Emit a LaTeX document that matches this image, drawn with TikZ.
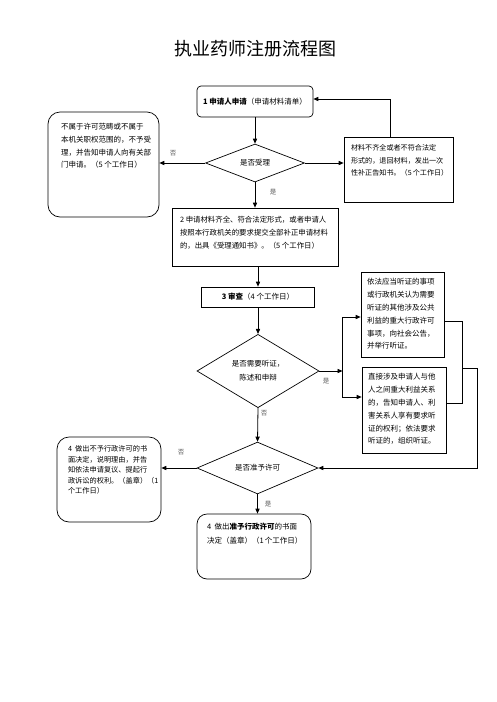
\documentclass[tikz,border=0pt]{standalone}
\usepackage{fontspec}
\setmainfont{Noto Sans CJK SC}
\usetikzlibrary{arrows.meta,shapes.geometric,calc}
\newcommand\tbox[3]{\parbox[c][#2][t]{#1}{\raggedright #3}}
\begin{document}
\begin{tikzpicture}[x=1pt,y=-1pt,
  box/.style={draw, line width=0.7pt, inner sep=0pt},
  rbox/.style={box, rounded corners=11pt},
  dia/.style={draw, diamond, inner sep=0pt, line width=0.7pt},
  arr/.style={-{Triangle[length=5pt,width=4.2pt]}, line width=0.8pt},
  lbl/.style={font=\fontsize{6.5}{7}\selectfont, text=black!65},
  txt/.style={font=\fontsize{7.5}{12.7}\selectfont}]
\useasboundingbox (0,0) rectangle (496,702);
\fill[white] (0,0) rectangle (496,702);

\node[font=\fontsize{18}{20}\selectfont] (title) at (255.5,48.5) {执业药师注册流程图};

\node[box, rounded corners=4pt, minimum width=116pt, minimum height=31pt, txt] (b1) at (255,101.5) {\textbf{1~申请人申请}（申请材料清单）};

\node[dia, minimum width=99pt, minimum height=38pt, txt] (d1) at (255,163) {是否受理};

\node[rbox, rounded corners=12pt, inner xsep=13pt, inner ysep=11.5pt, txt] (L1) at (103.5,164.5)
  {\tbox{85pt}{82pt}{不属于许可范畴或不属于\\本机关职权范围的，不予受\\理，并告知申请人向有关部\\门申请。（5~个工作日）}};

\node[box, inner xsep=7pt, inner ysep=7.5pt, font=\fontsize{7.1}{12.5}\selectfont] (R1) at (398.5,169.5)
  {\tbox{95pt}{50pt}{材料不齐全或者不符合法定\\形式的，退回材料，发出一次\\性补正告知书。（5~个工作日）}};

\node[box, inner xsep=8pt, inner ysep=8.5pt, font=\fontsize{7.4}{13}\selectfont] (b2) at (255,237)
  {\tbox{150pt}{41pt}{2~申请材料齐全、符合法定形式，或者申请人\\按照本行政机关的要求提交全部补正申请材料\\的，出具《受理通知书》。（5~个工作日）}};

\node[box, minimum width=113pt, minimum height=20pt, txt] (b3) at (258,297) {\textbf{3~审查}（4~个工作日）};

\node[dia, minimum width=122pt, minimum height=66pt, align=center, font=\fontsize{7.5}{14}\selectfont] (d2) at (258,371) {是否需要听证，\\陈述和申辩};

\node[box, inner xsep=6pt, inner ysep=6.5pt, font=\fontsize{7.5}{12.8}\selectfont] (b4) at (402.5,314.5)
  {\tbox{71pt}{72pt}{依法应当听证的事项\\或行政机关认为需要\\听证的其他涉及公共\\利益的重大行政许可\\事项，向社会公告，\\并举行听证。}};

\node[box, inner xsep=6pt, inner ysep=6.5pt, font=\fontsize{7.5}{12.8}\selectfont] (b5) at (404,410)
  {\tbox{72pt}{73pt}{直接涉及申请人与他\\人之间重大利益关系\\的，告知申请人、利\\害关系人享有要求听\\证的权利；依法要求\\听证的，组织听证。}};

\node[dia, minimum width=121pt, minimum height=50pt, txt] (d3) at (257.5,468) {是否准予许可};

\node[rbox, rounded corners=12pt, inner xsep=11pt, inner ysep=8.5pt, font=\fontsize{7.2}{10.5}\selectfont] (L2) at (109,479.5)
  {\tbox{82pt}{68pt}{4~~做出不予行政许可的书\\面决定，说明理由，并告\\知依法申请复议、提起行\\政诉讼的权利。（盖章）（1\\个工作日）}};

\node[rbox, rounded corners=10pt, inner xsep=10pt, inner ysep=9.5pt, font=\fontsize{7.5}{14}\selectfont] (b7) at (254,546.5)
  {\tbox{94pt}{46pt}{4~~做出\textbf{准予行政许可}的书面\\决定（盖章）（1~个工作日）}};

% connectors
\draw[arr] (b1.south) -- (d1.north);
\draw[arr] (d1.west) -- (d1.west -| L1.east);
\node[lbl] (n1) at (173,153) {否};
\draw[arr] (d1.east) -- (d1.east -| R1.west);
\draw[arr] ([xshift=-8.5pt]R1.north) |- ([yshift=2.5pt]b1.east);
\draw[arr] (d1.south) -- (d1.south |- b2.north);
\node[lbl] (y1) at (273,192) {是};
\draw[arr] (b3.north |- b2.south) -- (b3.north);
\draw[arr] (b3.south) -- (d2.north);

\coordinate (J1) at (342.5,371);
\draw[arr] (d2.east) -- (J1);
\node[lbl] (y2) at (326,381) {是};
\draw[arr] (J1) |- ([yshift=-2.5pt]b4.west);
\draw[arr] (J1) |- ([yshift=13pt]b5.west);

\coordinate (J2) at (462,368);
\coordinate (J3) at (477,368);
\draw[line width=0.8pt] ([yshift=-6.5pt]b4.east) -| (J2);
\draw[line width=0.8pt] ([yshift=7pt]b5.east) -| (J2);
\draw[arr] (J2) -- (J3) |- (d3.east);

\draw[arr] (d2.south) -- (d3.north);
\node[lbl] (n2) at (264,413) {否};
\draw[arr] (d3.west) -- (d3.west -| L2.east);
\node[lbl] (n3) at (181,452) {否};
\draw[arr] (d3.south) -- (d3.south |- b7.north);
\node[lbl] (y3) at (268,504) {是};
\end{tikzpicture}
\end{document}
